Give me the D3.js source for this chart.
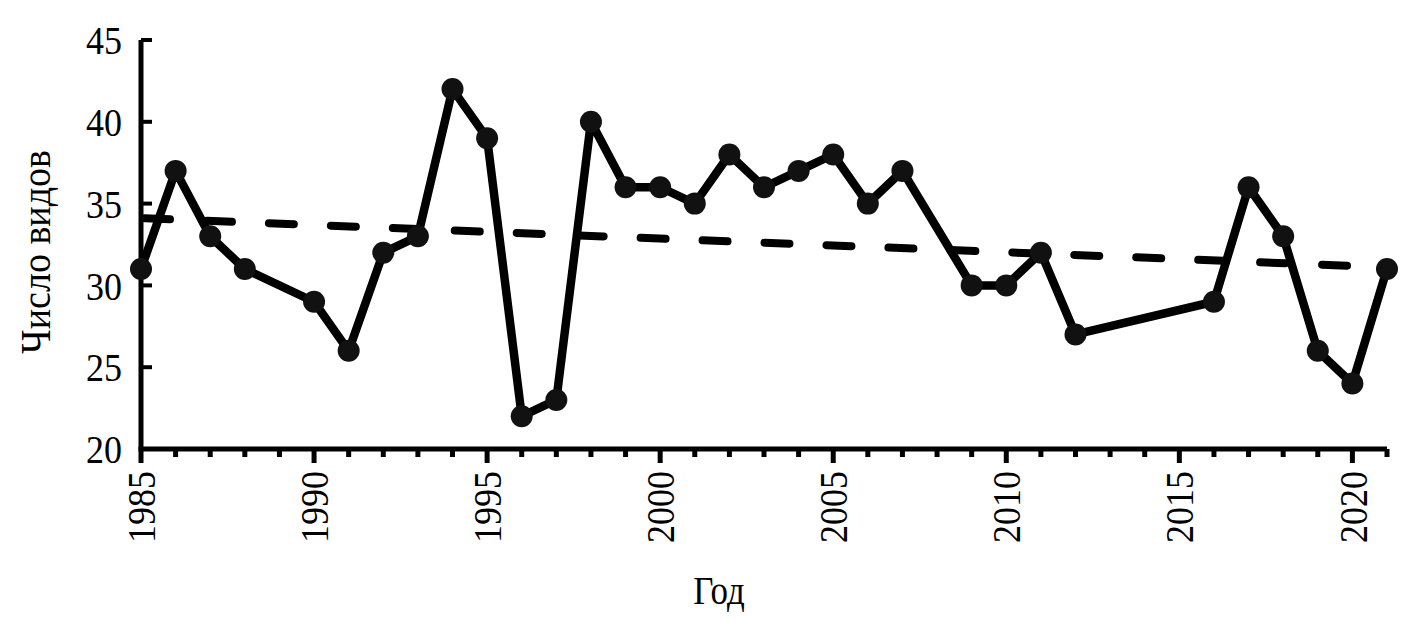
<!DOCTYPE html>
<html><head><meta charset="utf-8">
<script src="https://cdn.jsdelivr.net/npm/d3@7"></script>
<style>body{margin:0;background:#fff}svg{display:block}text{font-family:"Times New Roman","Liberation Serif",serif;fill:#000}</style>
</head><body><svg id="c" width="1426" height="621"></svg>
<script>
const years  = [1985,1986,1987,1988,1990,1991,1992,1993,1994,1995,1996,1997,1998,1999,2000,2001,2002,2003,2004,2005,2006,2007,2009,2010,2011,2012,2016,2017,2018,2019,2020,2021];
const values = [31,37,33,31,29,26,32,33,42,39,22,23,40,36,36,35,38,36,37,38,35,37,30,30,32,27,29,36,33,26,24,31];
const trendYears  = [1985,2021];
const trendValues = [34.1,31.1];
const yTicks = [20,25,30,35,40,45];
const xMajorTicks = [1985,1990,1995,2000,2005,2010,2015,2020];
const xLabel = "Год";
const yLabel = "Число видов";

const svg = d3.select("#c");
const x = d3.scaleLinear().domain([1985,2021]).range([141,1387]);
const y = d3.scaleLinear().domain([20,45]).range([449,40]);
const FS = 36, SY = 1.12;

// y axis
const ya = svg.append("g");
ya.append("line").attr("x1",x(1985)).attr("x2",x(1985)).attr("y1",y(45)).attr("y2",y(20))
  .attr("stroke","#000").attr("stroke-width",5);
yTicks.forEach(v=>{
  ya.append("line").attr("x1",x(1985)).attr("x2",x(1985)+11).attr("y1",y(v)).attr("y2",y(v))
    .attr("stroke","#000").attr("stroke-width",4);
  ya.append("text").attr("transform",`translate(122,${y(v)}) scale(1,${SY})`)
    .attr("text-anchor","end").attr("dy","0.35em").attr("font-size",FS).text(v);
});
// x axis
const xa = svg.append("g");
xa.append("line").attr("x1",x(1985)-2.5).attr("x2",x(2021)).attr("y1",y(20)).attr("y2",y(20))
  .attr("stroke","#000").attr("stroke-width",5);
d3.range(1985,2022).forEach(yr=>{
  const major = xMajorTicks.includes(yr);
  xa.append("line").attr("x1",x(yr)).attr("x2",x(yr)).attr("y1",y(20)).attr("y2",y(20)+(major?14:8))
    .attr("stroke","#000").attr("stroke-width",5);
});
xMajorTicks.forEach(yr=>{
  xa.append("text").attr("transform",`translate(${x(yr)},471) rotate(-90) scale(1,${SY})`)
    .attr("text-anchor","end").attr("dy","0.35em").attr("font-size",FS).text(yr);
});
// titles
svg.append("text").attr("transform",`translate(719,604) scale(1,${SY})`)
  .attr("text-anchor","middle").attr("font-size",35).text(xLabel);
svg.append("text").attr("transform",`translate(50,252) rotate(-90) scale(1,${SY})`)
  .attr("text-anchor","middle").attr("font-size",38).text(yLabel);

// trend
const trend = trendYears.map((t,i)=>[t,trendValues[i]]);
svg.append("path").datum(trend)
  .attr("d",d3.line().x(d=>x(d[0])).y(d=>y(d[1])))
  .attr("fill","none").attr("stroke","#000").attr("stroke-width",8)
  .attr("stroke-linecap","round").attr("stroke-dasharray","25,37")
  .attr("transform","translate(4,0)");

// series
const data = years.map((t,i)=>[t,values[i]]);
svg.append("path").datum(data)
  .attr("d",d3.line().x(d=>x(d[0])).y(d=>y(d[1])))
  .attr("fill","none").attr("stroke","#000").attr("stroke-width",8.5).attr("stroke-linejoin","round");
svg.selectAll("circle.p").data(data).enter().append("circle")
  .attr("cx",d=>x(d[0])).attr("cy",d=>y(d[1])).attr("r",11).attr("fill","#111");
</script></body></html>
